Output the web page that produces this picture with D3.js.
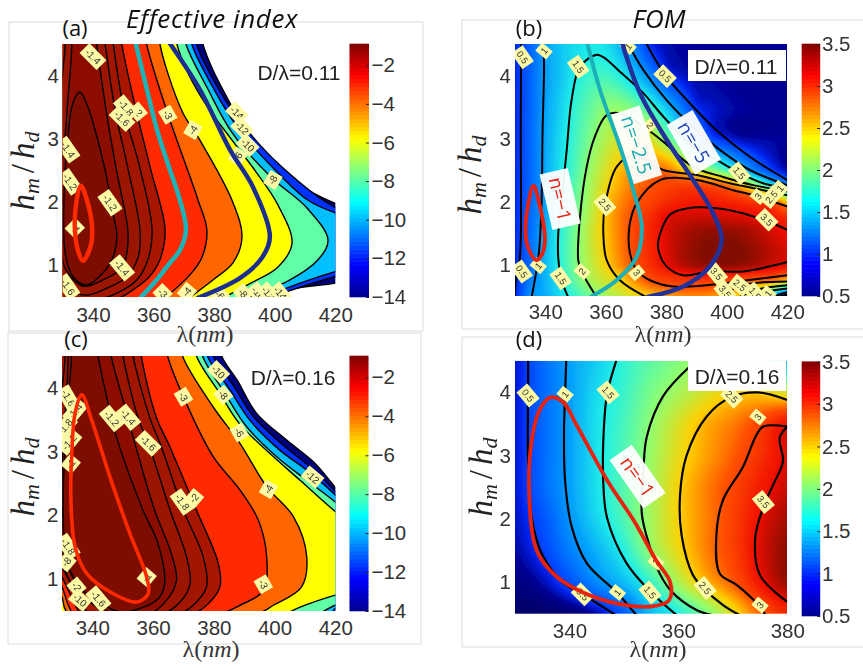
<!DOCTYPE html>
<html><head><meta charset="utf-8">
<script src="https://cdn.jsdelivr.net/npm/d3@7"></script>
<style>html,body{margin:0;padding:0;background:#fff}svg{display:block}</style>
</head><body><svg id="c" width="863" height="669"></svg>
<script>
// ---------- DATA: lambda in nm, h = hm/hd ----------
const xTicksWide=[340,360,380,400,420], xTicksNarrow=[340,360,380], yTicks=[1,2,3,4];
const indexTicks=[-2,-4,-6,-8,-10,-12,-14], fomTicks=[0.5,1,1.5,2,2.5,3,3.5];
const bandLevels=[-14,-12,-10,-8,-6,-4,-3,-2,-1.8,-1.6,-1.4,-1.2];
const bandColors=['#00007f','#0030ff','#00bfff','#60ffa5','#ffff00','#ff6600','#ff2a00','#a81800','#a21600','#9a1400','#8c1100','#7d0d00'];
const jetStops=['#00008f','#0000ff','#00ffff','#ffff00','#ff0000','#800000'];
const fomValues=[0.1,0.25,0.4,0.5,1,1.5,2,2.5,3,3.5,3.95];
const fomColors=['#00006a','#000090','#0020e8','#0040ff','#0098ff','#20f0e8','#90ff70','#ffd000','#ff5000','#f01000','#801000'];

const indexA=[
[[376.3,4.5],[379.6,4.09],[385.2,3.57],[389.5,3.17],[396.1,2.78],[407.3,2.30],[420,1.98],[426,1.9],[426,.8],[420,.72],[405,.62],[397,.46]],
[[374.2,4.5],[381.6,3.78],[389.5,3.22],[402.3,2.56],[420,1.92],[426,1.85],[426,.88],[420,.82],[405,.60],[396.8,.46]],
[[372.6,4.5],[380,3.78],[387.9,3.17],[400.7,2.48],[411,2.03],[420,1.83],[426,1.75],[426,.97],[420,.90],[405,.66],[394.5,.46]],
[[370.7,4.5],[378,3.78],[385.9,3.10],[399.1,2.38],[410.6,1.91],[417.6,1.40],[414.3,1.09],[405,.77],[389.5,.46]],
[[367.7,4.5],[371.4,4.04],[377.6,3.52],[385.9,2.98],[394.1,2.46],[401,1.96],[405.7,1.35],[401,.97],[391.8,.71],[381.9,.46]],
[[362.1,4.5],[364.7,4.04],[369.7,3.41],[375.3,2.98],[385.9,2.03],[389.2,1.45],[386.2,1.04],[379.6,.77],[371,.46]],
[[357.7,4.5],[364.8,3.38],[374.7,2.03],[377.6,1.56],[376,1.13],[372,.85],[363.1,.46]],
[[349.5,4.5],[354.2,3.46],[359.1,2.51],[363.8,1.56],[362.1,1.09],[358.2,.80],[351.2,.55],[347.9,.46]],
[[346.7,4.5],[350.2,3.46],[355.5,2.54],[359.5,1.56],[358.1,1.09],[354.5,.77],[347.9,.56],[342.3,.46]],
[[344,4.5],[347.3,3.46],[351.5,2.54],[355.5,1.56],[354.9,1.13],[351.2,.82],[344.6,.64],[338,.53],[331.7,.61],[329.6,.74],[329.6,3.78],[330.8,4.5]],
[[341.2,4.5],[344.3,3.46],[347.6,2.54],[351.5,1.56],[351.2,1.2],[349.6,.96],[343.3,.77],[336.7,.67],[331.4,.9],[329.6,1.16],[329.5,2.59],[330.4,2.83],[331.7,3.62],[333,4.5]]
];
const loopA=[[330.8,1.2],[330.5,2.2],[331.7,3.03],[333.4,3.57],[335.7,3.74],[338.3,3.51],[341.3,3.03],[344,2.51],[346.6,1.83],[347.9,1.45],[346.6,1.13],[343.3,.88],[338,.69],[333.4,.82]];

const indexC=[
[[382.6,4.5],[387.7,4.12],[394.1,3.60],[404,3.18],[412.8,2.84],[420,2.44],[426,2.1],[426,.46]],
[[379.8,4.5],[386.4,4.04],[393,3.55],[402.9,3.10],[411.7,2.76],[420,2.38],[426,2.05],[426,.46]],
[[377.9,4.5],[385.3,3.97],[391.9,3.49],[401.8,3.02],[410.6,2.71],[420,2.32],[426,2.0],[426,.5],[420,.54],[419,.46]],
[[376.3,4.5],[383.7,3.91],[390.8,3.39],[400.7,2.92],[410.6,2.55],[420,2.21],[426,1.95],[426,.65],[420,.59],[415,.46]],
[[374.3,4.5],[382,3.91],[388.4,3.44],[398.5,2.97],[408.4,2.55],[420,2.06],[426,1.85],[426,.82],[420,.75],[408.4,.56],[404,.46]],
[[369.7,4.5],[379.8,3.70],[388.6,3.13],[397.4,2.45],[406.2,1.98],[410.6,1.35],[408.9,.88],[399.6,.59],[394.1,.46],[332.1,.46],[330,.72],[329,.8]],
[[364.8,4.5],[369.7,3.89],[379.8,2.92],[388.6,2.40],[394.7,1.92],[397.4,1.35],[396.3,.82],[388.6,.59],[382,.46],[334,.46],[332.1,.59],[330,.88],[329,.95]],
[[356.1,4.5],[361.2,3.52],[365,3.13],[374.3,2.08],[381.5,1.24],[382,.88],[378.7,.64],[373.2,.46],[336.5,.46],[333.7,.67],[330,1.03],[329.3,1.08]],
[[353.4,4.5],[359,3.52],[362.3,3.13],[370,2.08],[376.5,1.35],[377.6,.88],[374.3,.64],[368.9,.46],[339.2,.46],[334.8,.77],[330,1.19],[329.3,1.24]],
[[350.1,4.5],[355.1,3.52],[358.4,3.13],[365.6,2.08],[371,1.35],[372.2,.93],[368.9,.64],[363.4,.46],[343.6,.46],[341.4,.56],[333.7,.88],[330,1.35],[329.6,3.34],[329.8,3.86],[331,4.5]],
[[346.2,4.5],[351.8,3.52],[354,3.13],[360.5,2.08],[366,1.40],[367.7,.98],[364.5,.67],[359,.46],[346.9,.46],[342.5,.59],[334.8,.93],[330,1.51],[329.7,2.29],[330.4,3.08],[332,4.5]],
[[341.9,4.5],[346.4,3.52],[348.6,3.13],[356.7,2.08],[361.6,1.56],[363.8,.93],[361.6,.69],[350.6,.48],[345.8,.54],[339.2,.72],[332.6,1.14],[330.7,1.66],[330.4,2.29],[331,3.08],[332.1,3.86],[333.1,4.5]]
];

const nMinus1A=[[336,2.26],[338,2.03],[339.7,1.61],[339.3,1.32],[336.7,1.07],[335,1.24],[334,1.61],[334.4,1.96]];
const nMinus25A=[[353.9,4.55],[357.8,3.78],[361.4,3.1],[365.4,2.51],[368.7,2.03],[370.7,1.56],[368.7,1.24],[365.4,1.04],[360.5,.74],[355.5,.48]];
const nMinus5A=[[364.8,4.55],[375.3,3.78],[385.2,2.83],[392.8,2.24],[398.4,1.45],[395.8,1.12],[388.5,.80],[374.3,.48]];
const nMinus1C=[[336.5,3.89],[339.8,3.49],[345.8,2.60],[352.4,1.71],[357.9,1.03],[358.4,.77],[354.6,.64],[346.9,.77],[338.1,1.09],[334.3,1.51],[332.9,2.29],[333.2,2.92],[334.3,3.60]];
const nMinus1B=[[336.1,2.25],[338,1.97],[339.9,1.39],[338.8,1.15],[337,1.07],[334.4,1.26],[333.5,1.49],[334.4,1.97]];
const nMinus25B=[[353.7,4.55],[358.1,3.77],[364.7,2.87],[369.1,2.18],[371.9,1.6],[370.2,1.12],[363.6,.75],[354.8,.48]];
const nMinus5B=[[365.2,4.55],[371.3,3.72],[380.1,2.98],[388.9,2.34],[395.5,1.81],[398.3,1.39],[394.4,.97],[385.6,.65],[373.5,.48]];
const nMinus1D=[[336.5,3.92],[338.9,3.84],[341.2,3.5],[347,2.6],[352,1.95],[355.9,1.35],[358.5,1],[358.3,.72],[355.2,.62],[349,.66],[342.5,.84],[337.5,1.1],[334,1.5],[332.6,2.4],[333,3.2],[334.4,3.7]];

const fomLinesB=[
[[332,4.5],[331.9,3.08],[331.9,1.39],[331.4,1],[330.3,.75],[329.8,.48]],
[[373.5,4.5],[379.6,4.01],[387.8,3.56],[396.6,3.13],[407.6,2.71],[420,2.34]],
[[339.4,4.5],[339.6,4.14],[339.1,3.08],[338.8,2.02],[338,1.23],[337.2,.94],[335.5,.48]],
[[367.4,4.5],[372.4,4.09],[380.1,3.61],[390,3.13],[397.7,2.82],[407.6,2.5],[420,2.26]],
[[347.6,.48],[345.4,.75],[344.3,1.1],[344.3,1.49],[345.4,2.02],[347.1,2.82],[348.7,3.61],[351.5,4.14],[357,4.33],[359.2,4.29],[364.7,4.06],[372.4,3.72],[379,3.35],[388.9,2.87],[396.6,2.66],[404.3,2.45],[412,2.29],[420,2.21]],
[[357,.48],[352,.89],[350.9,1.07],[351.5,1.76],[353.7,2.55],[356.4,3.03],[360.3,3.37],[364.7,3.4],[372.4,3.19],[379,2.95],[388.9,2.55],[398.8,2.39],[408.7,2.26],[420,2.16]],
[[373.5,.48],[364.7,.75],[360.3,1.07],[359.2,1.49],[359.7,1.92],[363.6,2.55],[369.1,2.74],[379,2.5],[390,2.42],[401,2.29],[412,2.18],[420,2.1]],
[[420,.83],[398.8,.7],[393.3,.67],[382.3,.65],[374.6,.75],[370.2,.91],[368,1.18],[367.8,1.6],[370.2,1.97],[377.9,2.34],[390,2.34],[402.1,2.18],[408.7,2.1],[420,1.92]],
[[420,1.55],[412,1.71],[398.8,1.88],[386.7,1.89],[381.2,1.79],[377.4,1.39],[377.4,1.23],[380.1,.97],[385.6,.83],[394.4,.89],[405.4,.89],[420,1.04]],
[[420,.73],[404.3,.66],[398.8,.48]],
[[420,.67],[410,.6],[404,.48]],
[[420,.62],[412,.56],[408,.48]],
[[420,.56],[414,.48]],
[[420,.52],[416,.48]]
];
const fomLinesD=[
[[332.4,4.5],[332.4,3.95],[332.4,2.9],[333.2,1.95],[335.1,1.42],[338.8,1],[342.4,.81],[346,.62],[348.5,.48]],
[[339.4,4.5],[339.2,3.97],[339,3.4],[339.2,2.6],[340.4,1.88],[343.2,1.3],[348.7,.84],[352.3,.48]],
[[348.6,4.5],[346.9,3.97],[346.3,3.4],[346.2,2.6],[346.9,2.02],[350.5,1.3],[354.8,.86],[359.7,.48]],
[[362,4.4],[357.2,3.94],[354.2,3.3],[353.6,2.8],[353.3,2.07],[354.8,1.55],[356,1.24],[358.5,.88],[363.4,.56],[366.4,.48]],
[[380,3.88],[374.6,4],[369.8,3.93],[365.2,3.62],[361.5,3.0],[360.3,2.37],[360.6,1.74],[362.7,1.11],[364.5,.92],[368.2,.64],[371.3,.48]],
[[380,3.46],[375.6,3.46],[374.3,3.32],[371.9,2.83],[368.2,2.3],[367,1.77],[367.6,1.14],[370.7,.96],[374.7,.64],[376,.48]],
[[380,3.46],[378.6,3.28],[379.2,2.91],[377.4,2.54],[375.6,2.19],[374.1,1.69],[375,1.11],[380,.69]]
];

const lambdaB=[330,335,340,345,350,355,360,365,370,375,380,385,390,395,400,405,410,415,420];
const hRowsB=[.5,.625,.75,1,1.5,1.75,2,2.25,2.5,3,3.5,4,4.5];
const fomB=[
[.4,.95,1.12,1.38,1.62,1.88,2.08,2.25,2.4,2.55,2.7,2.78,2.8,2.75,2.6,2.45,1.9,1.2,.4],
[.4,.9,1.14,1.43,1.72,2,2.2,2.36,2.6,2.8,2.92,3,3,2.98,2.9,2.75,2.4,2.05,1.55],
[.42,.85,1.15,1.48,1.82,2.12,2.3,2.48,2.8,3.05,3.15,3.2,3.2,3.2,3.15,3.05,2.95,2.88,2.6],
[.42,.75,1.18,1.55,1.92,2.2,2.48,2.78,3.05,3.28,3.52,3.72,3.85,3.9,3.92,3.88,3.78,3.65,3.55],
[.42,.75,1.15,1.55,1.9,2.25,2.55,2.85,3.12,3.35,3.58,3.75,3.85,3.9,3.9,3.85,3.75,3.62,3.5],
[.42,.73,1.08,1.5,1.86,2.2,2.55,2.85,3.08,3.3,3.55,3.62,3.65,3.65,3.62,3.58,3.52,3.42,3.3],
[.42,.72,1.05,1.45,1.82,2.15,2.52,2.78,2.98,3.12,3.28,3.38,3.42,3.4,3.35,3.28,3.15,3.05,2.5],
[.42,.72,1.06,1.44,1.78,2.1,2.42,2.68,2.88,3.02,3.1,3.15,3.12,3.05,2.9,2.55,2.05,1.45,1.0],
[.42,.72,1.08,1.42,1.72,2.05,2.32,2.58,2.75,2.85,2.85,2.55,2.2,1.95,1.65,1.2,.8,.5,.3],
[.42,.72,1.08,1.38,1.65,1.92,2.15,2.3,2.4,2.3,1.92,1.55,1,.55,.4,.3,.28,.27,.26],
[.42,.7,1.05,1.32,1.6,1.8,1.98,1.98,1.85,1.62,1.25,.82,.45,.35,.3,.27,.26,.25,.25],
[.42,.7,1.02,1.25,1.48,1.62,1.65,1.5,1.22,.88,.48,.35,.28,.27,.26,.25,.25,.25,.25],
[.42,.7,1.03,1.25,1.38,1.45,1.4,1.15,.8,.42,.3,.27,.26,.25,.25,.25,.25,.25,.25]
];
const lambdaD=[330,335,340,345,350,355,360,365,370,375,380];
const hRowsD=[.5,1,1.5,2,2.5,3,3.5,4,4.5];
const fomD=[
[.1,.1,.15,.3,.65,1.2,1.52,1.9,2.38,2.92,3.3],
[.18,.3,.58,.92,1.2,1.62,2.12,2.58,2.95,3.45,3.85],
[.28,.5,.85,1.15,1.52,2.02,2.42,2.8,3.12,3.58,3.9],
[.34,.6,.98,1.36,1.72,2.1,2.48,2.8,3.12,3.52,3.8],
[.36,.72,1.05,1.42,1.75,2.08,2.48,2.8,3.08,3.4,3.65],
[.36,.72,1.05,1.42,1.72,2.05,2.4,2.68,2.95,3.25,3.55],
[.36,.72,1.05,1.42,1.68,2.0,2.32,2.62,2.82,3.1,3.5],
[.36,.72,1.03,1.38,1.62,1.9,2.1,2.32,2.5,2.5,2.3],
[.36,.72,1.05,1.3,1.58,1.78,1.95,2.08,2.1,1.9,1.2]
];
// contour tags: lambda, h, text, angle
const tagsA=[[340,4.3,'-1.4',45],[354.8,3.43,'-2',50],[350.9,3.49,'-1.8',50],[349.6,3.32,'-1.6',45],[364.7,3.38,'-3',60],[373,3.14,'-4',-60],[387.5,3.41,'-14',45],[389.2,3.17,'-12',45],[391.1,2.9,'-10',45],[387.8,2.72,'-6',-55],[399.4,2.35,'-8',-60],[331.7,2.83,'-1.4',55],[332.4,2.32,'-1.2',55],[345.6,1.99,'-1.2',55],[334,1.59,'-1',-45],[349.6,.96,'-1.4',50],[331.7,.66,'-1.6',55],[363,.56,'-3',45],[371,.58,'-4',-50],[381.9,.53,'-6',45],[389.5,.56,'-8',50],[394.5,.56,'-10',50],[397.8,.56,'-12',50],[401.8,.56,'-14',50]];
const tagsB=[[332.5,4.29,'0.5',55],[339.6,4.39,'1',-50],[350.9,4.14,'1.5',55],[379.6,3.99,'0.5',45],[367.4,4.46,'1',-50],[374.6,3.21,'2',50],[404.1,2.45,'1.5',50],[410.4,2.08,'3',-50],[414.8,2.07,'2.5',-50],[417.6,2.21,'1',-50],[413.2,1.71,'3.5',45],[359.7,1.95,'2.5',50],[332.2,.89,'0.5',55],[337.7,.98,'1',-50],[345.1,.78,'1.5',55],[352.2,.89,'2',-50],[370.2,.87,'3',50],[396.6,.85,'3.5',50],[399.4,.57,'3.5',50],[404.3,.67,'2.5',40],[409.3,.54,'1.5',50],[413.7,.54,'1',-50]];
const tagsC=[[332.1,3.84,'-1.6',60],[334.3,3.63,'-1.4',-50],[331,3.39,'-1.8',-50],[332.4,3.15,'-1.2',-50],[332.9,2.81,'-1',-50],[346.4,3.52,'-1.2',50],[351.8,3.54,'-1.4',50],[358.4,3.13,'-1.6',45],[373.5,2.27,'-2',-50],[369.6,2.21,'-1.8',55],[370,3.86,'-3',60],[381.5,4.25,'-10',45],[383.1,3.89,'-8',50],[388.4,3.3,'-6',60],[398,2.41,'-4',-60],[412.5,2.6,'-12',40],[396.3,.92,'-3',60],[357.9,1.03,'-1',-50],[332,1.51,'-1.8',55],[331.5,1.27,'-8',-50],[334.8,.88,'-2',50],[342,.69,'-1.6',50],[335.9,.67,'-10',40]];
const tagsD=[[332.4,3.95,'0.5',50],[339.2,3.97,'1',-50],[347.1,4,'1.5',50],[369.8,3.93,'2.5',45],[374.6,3.61,'3',-50],[375.6,2.27,'3.5',50],[355.9,1.32,'2',-50],[342.4,.81,'0.5',45],[348.8,.84,'1',-50],[354.8,.84,'1.5',50],[364.9,.91,'2.5',50],[375,.64,'3',-50]];
const noteB=[[344.9,2.04,'n=−1',77,57,29,'#e82010'],[370.2,2.9,'n=−2.5',72,73,30,'#12a9b0'],[389.1,2.94,'n=−5',60,57,30,'#2040b8']];
const noteD=[[352.5,2.67,'n=−1',55,59,27,'#e82010']];

// ---------- DRAWING ----------
const svg=d3.select('#c');
const sans='"Liberation Sans",Arimo,sans-serif', serif='"Liberation Serif",serif', human='"Open Sans",sans-serif';
const defs=svg.append('defs');
defs.append('filter').attr('id','soft').append('feGaussianBlur').attr('stdDeviation',0.55);

// image frames
[[9,22,414,309],[462,20,420,309],[8,333,413,311],[462,337,420,310]].forEach(f=>{
  svg.append('rect').attr('x',f[0]).attr('y',f[1]).attr('width',f[2]).attr('height',f[3]).attr('fill','#fff').attr('stroke','#dcdcdc');
});

const jetScale=d3.scaleLinear().domain([0,.125,.375,.625,.875,1]).range(jetStops);
const fomColor=d3.scaleLinear().domain(fomValues).range(fomColors).clamp(true);
const lut=d3.range(801).map(i=>{const c=d3.rgb(fomColor(i/200));return [c.r,c.g,c.b];});

function frame(id,L){
  const x=d3.scaleLinear().domain(L.dx).range([L.x0,L.x1]);
  const y=d3.scaleLinear().domain([.5,4.5]).range([L.y0,L.y1]);
  defs.append('clipPath').attr('id',id).append('rect').attr('x',L.x0).attr('y',L.y1).attr('width',L.x1-L.x0).attr('height',L.y0-L.y1);
  const g=svg.append('g').attr('filter','url(#soft)');
  const clip=g.append('g').attr('clip-path',`url(#${id})`);
  return {x,y,g,clip};
}
const curve=(x,y)=>d3.line().x(d=>x(d[0])).y(d=>y(d[1])).curve(d3.curveCatmullRom.alpha(.5));
const loop=(x,y)=>d3.line().x(d=>x(d[0])).y(d=>y(d[1])).curve(d3.curveCatmullRomClosed.alpha(.5));

function bands(P,list,loopPts){
  const ln=curve(P.x,P.y);
  const L=d=>P.x(d), H=d=>P.y(d);
  list.forEach((pts,i)=>{
    const first=pts[0], last=pts[pts.length-1];
    let dd=ln([[first[0]-.8,4.8],...pts,...(last[1]>=4.49?[[last[0]-.5,4.8]]:[])]);
    if(last[1]>=4.49){}
    else if(last[0]<=330.2){dd+=`L${L(326)},${H(last[1])}`;}
    else {dd+=`L${L(last[0])},${H(.3)}L${L(326)},${H(.3)}`;}
    dd+=`L${L(326)},${H(4.9)}L${L(first[0]-.8)},${H(4.9)}Z`;
    P.clip.append('path').attr('d',dd).attr('fill',bandColors[i]).attr('stroke','#000').attr('stroke-width',1.4);
  });
  if(loopPts) P.clip.append('path').attr('d',loop(P.x,P.y)(loopPts)).attr('fill',bandColors[11]).attr('stroke','#000').attr('stroke-width',1.4);
}
function heat(P,L,cols,rows,grid){
  const rowIndex=d3.scaleLinear().domain(rows).range(d3.range(rows.length));
  const colIndex=d3.scaleLinear().domain(cols).range(d3.range(cols.length));
  const cr=(a,b,c,d,t)=>.5*((2*b)+(-a+c)*t+(2*a-5*b+4*c-d)*t*t+(-a+3*b-3*c+d)*t*t*t);
  const W=Math.round(L.x1-L.x0), Ht=Math.round(L.y0-L.y1);
  const cv=document.createElement('canvas'); cv.width=W; cv.height=Ht;
  const ctx=cv.getContext('2d'), im=ctx.createImageData(W,Ht);
  const at=(r,c)=>grid[Math.max(0,Math.min(rows.length-1,r))][Math.max(0,Math.min(cols.length-1,c))];
  for(let j=0;j<Ht;j++){
    const v=rowIndex(P.y.invert(L.y1+j+.5)), r=Math.floor(v), tv=v-r;
    for(let i=0;i<W;i++){
      const u=colIndex(P.x.invert(L.x0+i+.5)), c=Math.floor(u), tu=u-c;
      const q=[-1,0,1,2].map(dr=>cr(at(r+dr,c-1),at(r+dr,c),at(r+dr,c+1),at(r+dr,c+2),tu));
      const val=cr(q[0],q[1],q[2],q[3],tv);
      const col=lut[Math.max(0,Math.min(800,Math.round(val*200)))], k=(j*W+i)*4;
      im.data[k]=col[0];im.data[k+1]=col[1];im.data[k+2]=col[2];im.data[k+3]=255;
    }
  }
  ctx.putImageData(im,0,0);
  P.clip.append('image').attr('x',L.x0).attr('y',L.y1).attr('width',W).attr('height',Ht).attr('preserveAspectRatio','none').attr('href',cv.toDataURL());
}
function lines(P,list,w){
  const ln=curve(P.x,P.y);
  P.clip.selectAll(null).data(list).join('path').attr('d',ln).attr('fill','none').attr('stroke','#000').attr('stroke-width',w);
}
function nLine(P,pts,col,w,closed){
  P.clip.append('path').attr('d',(closed?loop:curve)(P.x,P.y)(pts)).attr('fill','none').attr('stroke',col).attr('stroke-width',w);
}
function tags(P,list,fs){
  const gs=P.clip.selectAll(null).data(list).join('g').attr('transform',d=>`translate(${P.x(d[0])},${P.y(d[1])}) rotate(${d[3]})`);
  gs.append('rect').attr('x',d=>-(d[2].length*4.5+6)/2).attr('y',-7).attr('width',d=>d[2].length*4.5+6).attr('height',14).attr('fill','#fdfaa6');
  gs.append('text').text(d=>d[2]).attr('text-anchor','middle').attr('dy','.35em').attr('font-size',fs).attr('font-family',sans).attr('fill','#333');
}
function notes(P,list){
  const gs=P.clip.selectAll(null).data(list).join('g').attr('transform',d=>`translate(${P.x(d[0])},${P.y(d[1])}) rotate(${d[3]})`);
  gs.append('rect').attr('x',d=>-d[4]/2).attr('y',d=>-d[5]/2).attr('width',d=>d[4]).attr('height',d=>d[5]).attr('fill','#fff').attr('fill-opacity',.95);
  gs.append('text').text(d=>d[2]).attr('text-anchor','middle').attr('dy','.36em').attr('font-size',19).attr('font-family',human).attr('fill',d=>d[6]);
}
function axes(P,L,xt){
  const tf=s=>s.style('font-family',sans).style('font-size','20.5px').style('fill','#333');
  const gx=svg.append('g').attr('transform',`translate(0,${L.tx})`).call(d3.axisBottom(P.x).tickValues(xt).tickSize(0).tickPadding(0).tickFormat(d3.format('d')));
  gx.select('.domain').remove(); gx.selectAll('text').call(tf).attr('dy','.36em').attr('y',0);
  const gy=svg.append('g').attr('transform',`translate(${L.ty},0)`).call(d3.axisLeft(P.y).tickValues(yTicks).tickSize(0).tickPadding(0).tickFormat(d3.format('d')));
  gy.select('.domain').remove(); gy.selectAll('text').call(tf).attr('x',0);
}
function colorbar(L,domain,ticks,fmt){
  const cy=d3.scaleLinear().domain(domain).range([L.cb0,L.cb1]);
  const g=svg.append('g');
  const n=64, vals=d3.range(n).map(i=>domain[0]+(domain[1]-domain[0])*(i+.5)/n), h=(L.cb0-L.cb1)/n;
  g.selectAll(null).data(vals).join('rect').attr('x',L.cx).attr('width',L.cw).attr('y',d=>cy(d)-h/2-.3).attr('height',h+.6)
    .attr('fill',d=>jetScale((d-domain[0])/(domain[1]-domain[0])));
  const ax=svg.append('g').attr('transform',`translate(${L.cx+L.cw},0)`).call(d3.axisRight(cy).tickValues(ticks).tickSize(-3).tickPadding(0).tickFormat(fmt));
  ax.select('.domain').remove(); ax.selectAll('line').attr('stroke','#222');
  ax.selectAll('text').style('font-family',sans).style('font-size','20.5px').style('fill','#333').attr('x',L.cl-(L.cx+L.cw)).attr('text-anchor','start');
}
function labels(L,letter){
  svg.append('text').attr('x',L.lx).attr('y',L.ly).attr('text-anchor','middle').attr('font-family',human).attr('font-size',22).attr('fill','#111').text(letter);
  const xl=svg.append('text').attr('x',L.xlx).attr('y',L.xly).attr('text-anchor','middle').attr('font-family',serif).attr('font-size',24).attr('fill','#333');
  xl.append('tspan').text('λ('); xl.append('tspan').attr('font-style','italic').text('nm'); xl.append('tspan').text(')');
  const yl=svg.append('text').attr('transform',`translate(${L.ylx},${L.yly}) rotate(-90)`).attr('text-anchor','middle').attr('font-family',serif).attr('font-size',33).attr('font-style','italic').attr('fill','#222');
  yl.append('tspan').text('h');
  yl.append('tspan').attr('font-size',22).attr('dy',5).text('m');
  yl.append('tspan').attr('dy',-5).attr('dx',5).attr('font-style','normal').text('/');
  yl.append('tspan').attr('dx',5).text('h');
  yl.append('tspan').attr('font-size',22).attr('dy',5).text('d');
}
function dlabel(L,t,box){
  if(box) svg.append('rect').attr('x',L.bx).attr('y',L.by).attr('width',L.bw).attr('height',L.bh).attr('fill','#fff');
  svg.append('text').attr('x',L.dx0).attr('y',L.dy0).attr('text-anchor','middle').attr('dy','.36em').attr('font-family',sans).attr('font-size',21).attr('fill','#222').text(t);
}
const minus=f=>d=>f(d).replace('-','−');

const LA={dx:[330,420],x0:62.7,x1:335.3,y0:297,y1:44,tx:315,ty:59,cx:349.5,cw:19.5,cb0:297,cb1:44,cl:371.5,lx:75,ly:36,xlx:205,xly:342,ylx:34,yly:171,dx0:299,dy0:72};
const LB={dx:[330,420],x0:515,x1:787.3,y0:296,y1:44,tx:312,ty:511,cx:801.7,cw:18.5,cb0:296,cb1:44,cl:822,lx:529,ly:36,xlx:663,xly:342,ylx:481,yly:175,dx0:736,dy0:66,bx:688,by:50,bw:98,bh:31};
const LC={dx:[330,420],x0:62,x1:335.3,y0:611,y1:356,tx:628,ty:58.5,cx:349.5,cw:19,cb0:611,cb1:356,cl:371.5,lx:76,ly:347,xlx:211,xly:657,ylx:34,yly:477,dx0:293,dy0:377};
const LD={dx:[330,380],x0:515,x1:787.3,y0:614,y1:360.7,tx:631,ty:511,cx:801.7,cw:18.5,cb0:616,cb1:361.7,cl:822,lx:529,ly:347,xlx:658,xly:657,ylx:492,yly:477,dx0:737,dy0:376,bx:688,by:361,bw:98,bh:30};

// (a)
const PA=frame('ca',LA);
bands(PA,indexA,loopA);
tags(PA,tagsA,10);
nLine(PA,nMinus25A,'#1cb4b8',4.5); nLine(PA,nMinus5A,'#1f2f90',4.5); nLine(PA,nMinus1A,'#ff2a00',4.5,true);
// (c)
const PC=frame('cc',LC);
bands(PC,indexC);
tags(PC,tagsC,10);
nLine(PC,nMinus1C,'#ff2a00',3.6,true);
// (b)
const PB=frame('cb',LB);
heat(PB,LB,lambdaB,hRowsB,fomB);
lines(PB,fomLinesB,2);
tags(PB,tagsB,9.5);
notes(PB,noteB);
nLine(PB,nMinus25B,'#1cb0b8',4); nLine(PB,nMinus5B,'#20309a',4.5); nLine(PB,nMinus1B,'#e82010',3.8,true);
// (d)
const PD=frame('cd',LD);
heat(PD,LD,lambdaD,hRowsD,fomD);
lines(PD,fomLinesD,2.2);
tags(PD,tagsD,9.5);
notes(PD,noteD);
nLine(PD,nMinus1D,'#e82010',3.8,true);

[[PA,LA,xTicksWide],[PB,LB,xTicksWide],[PC,LC,xTicksWide],[PD,LD,xTicksNarrow]].forEach(a=>axes(a[0],a[1],a[2]));
const fmtI=minus(d3.format('d')), fmtF=d3.format('~g');
colorbar(LA,[-14,-.9],indexTicks,fmtI); colorbar(LC,[-14,-.9],indexTicks,fmtI);
colorbar(LB,[.5,3.5],fomTicks,fmtF); colorbar(LD,[.5,3.5],fomTicks,fmtF);
labels(LA,'(a)');labels(LB,'(b)');labels(LC,'(c)');labels(LD,'(d)');
dlabel(LA,'D/λ=0.11');dlabel(LB,'D/λ=0.11',true);dlabel(LC,'D/λ=0.16');dlabel(LD,'D/λ=0.16',true);
svg.append('text').attr('x',212).attr('y',28).attr('text-anchor','middle').attr('font-family',human).attr('font-style','italic').attr('font-size',26).attr('letter-spacing',.6).attr('fill','#111').text('Effective index');
svg.append('text').attr('x',659).attr('y',28).attr('text-anchor','middle').attr('font-family',human).attr('font-style','italic').attr('font-size',26).attr('fill','#111').text('FOM');
</script></body></html>
